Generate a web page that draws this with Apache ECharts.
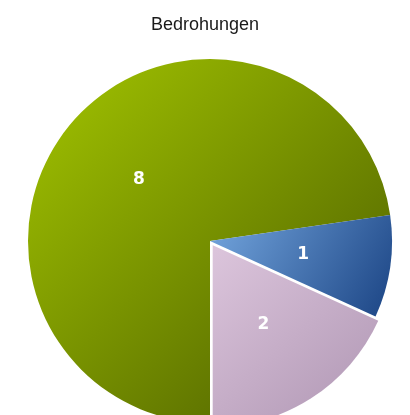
<!DOCTYPE html>
<html lang="de">
<head>
    <meta charset="UTF-8">
    <title>Bedrohungen</title>
    <script src="https://cdn.jsdelivr.net/npm/echarts@6/dist/echarts.min.js"></script>
    <style>
        html, body { margin: 0; padding: 0; background: #fff; }
    </style>
</head>
<body>
<div id="main" style="width: 410px;height:415px;"></div>
<script type="text/javascript">
    // Daten
    var kategorien = ['A', 'B', 'C'];
    var werte = [8, 1, 2];
    // Farbverlauf je Segment: hell oben links -> dunkel unten rechts
    var farbenHell = ['#a3c500', '#74a6de', '#dcc5dc'];
    var farbenDunkel = ['#495a00', '#1b4484', '#ae95b2'];
    var ausgewaehlt = [false, false, true];

    var daten = [];
    for (var i = 0; i < werte.length; i++) {
        daten.push({
            name: kategorien[i],
            value: werte[i],
            selected: ausgewaehlt[i],
            itemStyle: {
                color: {
                    type: 'linear', x: 0, y: 0, x2: 1, y2: 1,
                    colorStops: [
                        { offset: 0, color: farbenHell[i] },
                        { offset: 1, color: farbenDunkel[i] }
                    ]
                }
            }
        });
    }

    var myChart = echarts.init(document.getElementById('main'));
    myChart.setOption({
        animation: false,
        title: {
            text: 'Bedrohungen',
            left: 'center',
            top: 11,
            textStyle: {
                fontFamily: 'Liberation Sans',
                fontSize: 18,
                fontWeight: 'normal',
                color: '#1a1a1a'
            }
        },
        series: [{
            type: 'pie',
            center: [210, 241],
            radius: 182,
            startAngle: 270,
            clockwise: true,
            selectedMode: 'single',
            selectedOffset: 5,
            emphasis: { disabled: true },
            label: {
                position: 'inside',
                formatter: '{c}',
                color: '#fff',
                fontFamily: 'DejaVu Sans',
                fontWeight: 'bold',
                fontSize: 17
            },
            labelLine: { show: false },
            data: daten
        }]
    });
</script>
</body>
</html>
